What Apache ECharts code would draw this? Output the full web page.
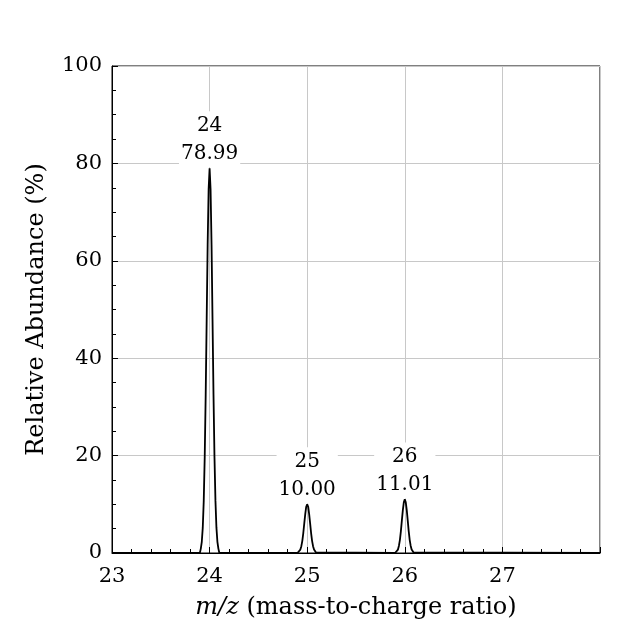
<!DOCTYPE html>
<html>
<head>
<meta charset="utf-8">
<script src="https://cdn.jsdelivr.net/npm/echarts@6/dist/echarts.min.js"></script>
<style>
  html, body { margin: 0; padding: 0; background: #fff; }
  #chart { width: 640px; height: 640px; }
</style>
</head>
<body>
<div id="chart"></div>
<script>
// peak centres and their heights (%)
const peakMasses = [24, 25, 26];
const peakHeights = [78.99, 10.00, 11.01];

// profile, as [m/z, abundance]
const profile = [
  [23, 0],
  [23.9, 0], [23.91, 0.9], [23.92, 2.3], [23.93, 5.2], [23.94, 10.7], [23.95, 19.7],
  [23.96, 32.5], [23.97, 47.9], [23.98, 63.3], [23.99, 74.7], [24, 78.99],
  [24.01, 74.7], [24.02, 63.3], [24.03, 47.9], [24.04, 32.5], [24.05, 19.7],
  [24.06, 10.7], [24.07, 5.2], [24.08, 2.3], [24.09, 0.9], [24.1, 0],
  [24.9, 0], [24.91, 0.1], [24.92, 0.3], [24.93, 0.7], [24.94, 1.4], [24.95, 2.5],
  [24.96, 4.1], [24.97, 6.1], [24.98, 8.0], [24.99, 9.5], [25, 10.00],
  [25.01, 9.5], [25.02, 8.0], [25.03, 6.1], [25.04, 4.1], [25.05, 2.5],
  [25.06, 1.4], [25.07, 0.7], [25.08, 0.3], [25.09, 0.1], [25.1, 0],
  [25.9, 0], [25.91, 0.1], [25.92, 0.3], [25.93, 0.7], [25.94, 1.5], [25.95, 2.7],
  [25.96, 4.5], [25.97, 6.7], [25.98, 8.8], [25.99, 10.4], [26, 11.01],
  [26.01, 10.4], [26.02, 8.8], [26.03, 6.7], [26.04, 4.5], [26.05, 2.7],
  [26.06, 1.5], [26.07, 0.7], [26.08, 0.3], [26.09, 0.1], [26.1, 0],
  [28, 0]
];

const xTicks = [23, 24, 25, 26, 27];
const yTicks = [0, 20, 40, 60, 80, 100];

const font = 'DejaVu Serif';

const chart = echarts.init(document.getElementById('chart'));

const peakLabels = peakMasses.map((m, i) => ({
  coord: [m, peakHeights[i]],
  value: m + '\n' + peakHeights[i].toFixed(2)
}));

chart.setOption({
  animation: false,
  backgroundColor: '#fff',
  textStyle: { fontFamily: font },
  grid: {
    left: 112, right: 40, top: 66, bottom: 87,
    show: true, borderColor: '#000', borderWidth: 1, backgroundColor: 'transparent'
  },
  xAxis: {
    type: 'value',
    min: xTicks[0], max: 28, interval: 1,
    name: '{i|m/z} (mass-to-charge ratio)',
    nameLocation: 'middle', nameGap: 43,
    nameTextStyle: {
      fontFamily: font, fontSize: 24, color: '#000',
      rich: { i: { fontFamily: font, fontStyle: 'italic', fontSize: 24, color: '#000' } }
    },
    axisLine: { lineStyle: { color: '#000', width: 1 } },
    axisTick: { show: true, inside: true, length: 6, lineStyle: { color: '#000' } },
    minorTick: { show: true, splitNumber: 5, length: 4, lineStyle: { color: '#000' } },
    axisLabel: {
      fontFamily: font, fontSize: 21, color: '#000', margin: 13,
      showMaxLabel: false,
      formatter: v => xTicks.includes(v) ? String(v) : ''
    },
    splitLine: { show: true, lineStyle: { color: '#c8c8c8', width: 1 } }
  },
  yAxis: {
    type: 'value',
    min: 0, max: 100, interval: 20,
    name: 'Relative Abundance (%)',
    nameLocation: 'middle', nameGap: 63,
    nameTextStyle: { fontFamily: font, fontSize: 24, color: '#000' },
    axisLine: { show: true, lineStyle: { color: '#000', width: 1 } },
    axisTick: { show: true, inside: true, length: 6, lineStyle: { color: '#000' } },
    minorTick: { show: true, splitNumber: 4, length: 4, lineStyle: { color: '#000' } },
    axisLabel: {
      fontFamily: font, fontSize: 21, color: '#000', margin: 10,
      formatter: v => yTicks.includes(v) ? String(v) : ''
    },
    splitLine: { show: true, lineStyle: { color: '#c8c8c8', width: 1 } }
  },
  series: [{
    type: 'line',
    data: profile,
    showSymbol: false,
    lineStyle: { color: '#000', width: 1.8 },
    markPoint: {
      symbol: 'rect', symbolSize: 0,
      data: peakLabels,
      label: {
        show: true,
        position: 'top',
        distance: 1,
        formatter: p => p.value,
        fontFamily: font, fontSize: 20, color: '#000',
        lineHeight: 28, align: 'center',
        backgroundColor: '#fff',
        padding: [0, 2]
      }
    }
  }]
});
</script>
</body>
</html>
